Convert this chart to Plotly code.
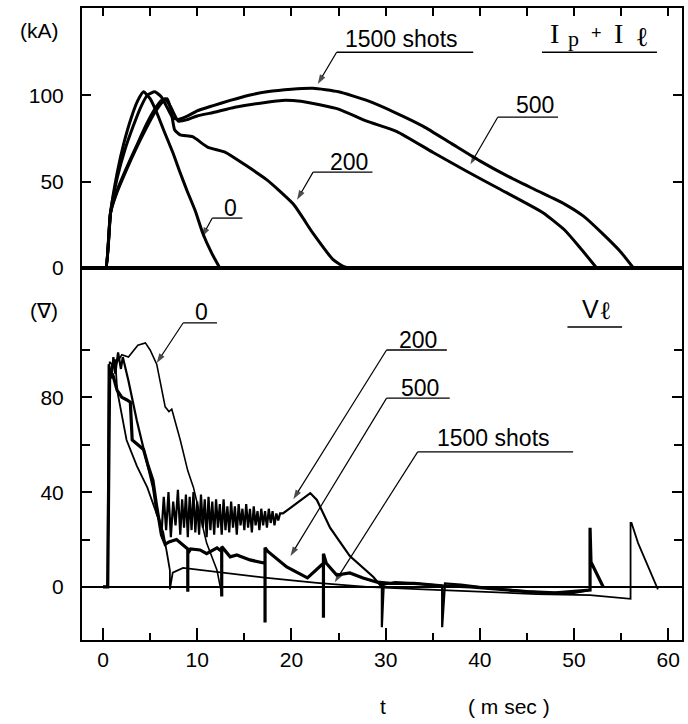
import plotly.graph_objects as go
from plotly.subplots import make_subplots

# ---------------- top panel: Ip + Il (kA) vs t (ms) ----------------
t_top_0 = [0, 0.3, 0.8, 1.5, 2.2, 3.0, 3.7, 4.3, 5.0, 5.7, 6.5, 7.4, 8.2, 8.9, 9.8, 10.6, 11.5, 12.4]
i_top_0 = [0, 0, 32, 55, 72, 87, 97, 102, 98, 90, 79, 67, 55, 45, 33, 20, 9, 0]

t_top_200 = [0, 0.3, 0.8, 1.5, 2.5, 3.5, 4.5, 5.5, 6.3, 6.8, 7.2, 7.6, 8.2, 9.5, 11.1, 13.0, 15.0,
             17.4, 20.2, 22.3, 24.4, 25.5, 26.2]
i_top_200 = [0, 0, 32, 44, 57, 69, 80, 90, 96, 98, 92, 80, 77, 76, 70, 67, 60,
             51, 37, 20, 5, 1, 0]

t_top_500 = [0, 0.3, 0.8, 1.5, 2.5, 3.5, 4.5, 5.5, 6.2, 6.6, 7.2, 8.0, 9.0, 10.0, 11.7, 14.0, 17.4,
             19.0, 21.0, 23.0, 25.0, 28.0, 31.2, 35.0, 38.6, 42.0, 46.7, 49.0, 50.6, 52.4]
i_top_500 = [0, 0, 32, 45, 58, 70, 82, 92, 97, 98, 93, 85, 86, 88, 90, 93, 96,
             97, 96.5, 94.5, 92, 85, 79, 67, 56, 46, 32, 22, 12, 0]

t_top_1500 = [0, 0.3, 0.8, 1.5, 2.3, 3.2, 4.0, 4.7, 5.5, 6.2, 6.8, 7.4, 8.0, 9.0, 10.0, 11.7, 13.5,
              15.5, 17.4, 20.0, 22.3, 25.0, 28.0, 31.0, 34.0, 37.0, 40.0, 43.0, 46.0, 49.0,
              51.0, 53.0, 55.0, 56.3]
i_top_1500 = [0, 0, 32, 52, 68, 82, 93, 100, 102, 99, 93, 87, 86, 88, 91, 94, 97,
              100, 102, 103.5, 104, 102, 97, 90, 82, 72, 62, 53, 45, 37,
              30, 20, 9, 0]

# ---------------- bottom panel: V_l (V) vs t (ms) ----------------
t_v_0 = [0, 0.5, 0.7, 1.2, 2.0, 2.7, 3.7, 4.5, 5.0, 5.7, 6.6, 7.0, 7.3, 8.2, 9.0, 9.6, 11.0, 12.1, 12.6]
v_0 = [0, 0, 95, 93, 98, 97, 102, 103, 100, 94, 76, 74, 75, 62, 49, 42, 18.5, 7, -3]

t_v_200 = [0, 0.5, 0.6, 0.9, 1.1, 1.3, 1.6, 1.9, 2.1, 2.7, 3.6, 4.7, 5.3, 5.7, 6.0,
           6.2, 6.45, 6.7, 6.95, 7.2, 7.45, 7.7, 7.95, 8.2, 8.4, 8.6, 8.8, 9.0, 9.2, 9.4, 9.6,
           9.8, 10.0, 10.2, 10.4, 10.6, 10.8, 11.0, 11.2, 11.4, 11.6, 11.8, 12.0, 12.2, 12.4,
           12.6, 12.8, 13.0, 13.2, 13.4, 13.6, 13.8, 14.0, 14.2, 14.4, 14.6, 14.8, 15.0, 15.2,
           15.4, 15.6, 15.8, 16.0, 16.2, 16.4, 16.6, 16.8, 17.0, 17.2, 17.4, 17.6, 17.8, 18.0,
           18.2, 18.4, 18.6, 18.8,
           19.1, 20.6, 22.0, 22.7, 24.1, 25.5, 26.2, 28.7, 29.4, 29.6, 29.6, 29.8, 31.0, 33.0,
           35.0, 36.0, 36.0, 36.3, 38.0, 41.0, 44.0, 47.0, 50.0, 51.5]
v_200 = [0, 0, 94, 88, 97, 90, 99, 92, 97, 87, 70, 51, 42, 31, 28,
         22, 38, 24, 40, 21, 36, 26, 41, 22, 37, 25, 39, 21, 38, 24, 40,
         23, 36, 22, 39, 25, 37, 21, 38, 24, 36, 22, 37, 25, 35,
         22, 37, 24, 34, 23, 36, 25, 34, 22, 35, 26, 33, 24, 35,
         25, 33, 23, 34, 26, 32, 24, 33, 26, 32, 25, 33, 27, 32,
         26, 31, 28, 31,
         31, 35.4, 39.6, 36.7, 25, 17, 13, 4.2, 0.8, 1.5, -17, 1, 2, 1.5,
         1, 0.5, -17, 1.5, 1, -0.5, -1.5, -2.5, -2.5, -1.5]

t_v_500 = [0, 0.5, 0.7, 1.0, 1.5, 2.0, 2.5, 2.9, 3.1, 3.4, 4.3, 4.8, 5.3, 5.7, 6.2, 6.6, 7.0,
           7.8, 8.5, 9.0, 9.0, 9.0, 9.3, 10.3, 11.0, 12.1, 12.6, 12.6, 12.6, 13.5, 14.2, 15.6,
           17.2, 17.2, 17.2, 17.5, 19.5, 21.7, 23.4, 23.4, 23.4, 23.7, 24.8, 26.2, 27.6, 29.1,
           30.5, 33.0, 36.0, 39.0, 42.0, 45.0, 48.0, 51.4, 51.7, 51.7, 51.8, 53.1]
v_500 = [0, 0, 88, 90, 83, 80, 79, 78, 62, 61, 58, 51, 45, 34, 22, 18, 19,
         20, 17.7, 16, -2, 14, 16, 15.6, 14, 16.5, 15, -4, 17, 12.7, 13.5, 11.4,
         10, -15, 16.5, 15, 8.4, 3.8, 10, -13, 14, 10, 5, 5.9, 3.8, 2,
         1.5, 1.5, 0.5, 0, -1, -2, -2.5, -1.3, -1.3, 25, 10.5, 0]

t_v_1500 = [0, 0.5, 0.7, 1.0, 1.3, 1.5, 2.5, 3.6, 4.7, 5.7, 6.4, 6.8, 7.1, 7.1, 7.4, 8.5,
            12.1, 17.4, 22.7, 28.0, 34.0, 40.0, 46.0, 51.7, 56.0, 56.0, 56.1, 56.8, 58.9]
v_1500 = [0, 0, 90, 94, 96, 83, 62, 51, 42, 31, 23, 14, 7, -1, 6, 8,
          6.3, 3.8, 1.7, 0, -1, -2, -3, -3.5, -5, 27, 27, 18.5, -1]

x_ticks = [0, 10, 20, 30, 40, 50, 60]
x_minor = [5, 15, 25, 35, 45, 55]
top_ticks = [0, 50, 100]
bot_ticks = [0, 40, 80]
bot_minor = [20, 60, 100]

FONT = "Liberation Sans, Arial, sans-serif"
SERIF = "Liberation Serif, serif"

fig = make_subplots(rows=2, cols=1, shared_xaxes=True, vertical_spacing=0)

for t, v in [(t_top_0, i_top_0), (t_top_200, i_top_200), (t_top_500, i_top_500), (t_top_1500, i_top_1500)]:
    fig.add_trace(go.Scatter(x=t, y=v, mode="lines", showlegend=False, hoverinfo="skip",
                             line=dict(color="black", width=3, shape="spline", smoothing=0.5)),
                  row=1, col=1)

bottom = [(t_v_0, v_0, 1.6), (t_v_1500, v_1500, 1.8), (t_v_200, v_200, 2.2), (t_v_500, v_500, 3.2)]
for t, v, w in bottom:
    fig.add_trace(go.Scatter(x=t, y=v, mode="lines", showlegend=False, hoverinfo="skip",
                             line=dict(color="black", width=w)),
                  row=2, col=1)

XR = [-2.23, 61.46]
split = 0.5886

fig.update_layout(
    width=688, height=724,
    margin=dict(l=82, r=6, t=8, b=84, autoexpand=False),
    paper_bgcolor="white", plot_bgcolor="white",
    font=dict(family=FONT, color="black", size=21),
    xaxis=dict(range=XR, side="top", showline=True, mirror=True, linecolor="black", linewidth=2,
               ticks="inside", tick0=0, dtick=5, ticklen=8, tickwidth=1.5, tickcolor="black",
               showticklabels=False, showgrid=False, zeroline=False, automargin=False),
    xaxis2=dict(range=XR, showline=True, mirror=True, linecolor="black", linewidth=2,
                ticks="inside", tickvals=x_ticks, ticktext=[str(v) for v in x_ticks],
                ticklen=12, tickwidth=1.5, tickcolor="black",
                minor=dict(tickvals=x_minor, ticklen=7, ticks="inside",
                           tickwidth=1.5, tickcolor="black"),
                tickfont=dict(size=21), ticklabelstandoff=0,
                showgrid=False, zeroline=False, automargin=False),
    yaxis=dict(domain=[split, 1], range=[0, 150.5], showline=True, mirror="ticks",
               linecolor="black", linewidth=2, ticks="inside", tickvals=top_ticks,
               ticklen=9, tickwidth=1.5, tickcolor="black", tickfont=dict(size=21),
               ticklabelstandoff=12, showgrid=False, zeroline=False, automargin=False),
    yaxis2=dict(domain=[0, split], range=[-22.4, 134.6], showline=True, mirror="ticks",
                linecolor="black", linewidth=2, ticks="inside", tickvals=bot_ticks,
                ticklen=10, tickwidth=1.5, tickcolor="black", tickfont=dict(size=21),
                minor=dict(tickvals=bot_minor, ticklen=8, ticks="inside", tickwidth=1.5,
                           tickcolor="black"),
                ticklabelstandoff=12, showgrid=False, automargin=False,
                zeroline=True, zerolinecolor="black", zerolinewidth=1.5),
)

# ---- labels, underlines and leaders ----
# (text, x_center, y_center, size, underline x0, x1, y, leader tip x, y, panel)
labels = [
    ("1500 shots", 31.7, 132.4, 23, 24.8, 39.3, 124.9, 22.8, 106.5, 1),
    ("500", 45.9, 94.2, 23, 41.9, 48.3, 87.3, 39.0, 60.0, 1),
    ("200", 26.1, 61.3, 23, 22.3, 28.6, 55.5, 20.6, 39.5, 1),
    ("0", 13.5, 34.7, 23, 11.6, 14.8, 28.9, 10.5, 18.0, 1),
    ("0", 10.5, 116.0, 23, 8.5, 12.1, 111.4, 5.7, 94.5, 2),
    ("200", 33.4, 104.2, 23, 30.1, 36.5, 100.0, 20.2, 37.0, 2),
    ("500", 33.7, 84.0, 23, 30.1, 36.8, 79.7, 19.9, 13.0, 2),
    ("1500 shots", 41.5, 62.9, 23, 33.4, 49.9, 57.0, 24.6, 2.0, 2),
]
for text, xc, yc, sz, ux0, ux1, uy, tx, ty, p in labels:
    xr = "x" if p == 1 else "x2"
    yr = "y" if p == 1 else "y2"
    fig.add_annotation(x=xc, y=yc, xref=xr, yref=yr, text=text, showarrow=False,
                       font=dict(size=sz), xanchor="center", yanchor="middle")
    fig.add_shape(type="line", x0=ux0, x1=ux1, y0=uy, y1=uy, xref=xr, yref=yr,
                  line=dict(color="black", width=1.3))
    fig.add_trace(go.Scatter(x=[ux0, tx], y=[uy, ty], mode="lines+markers",
                             showlegend=False, hoverinfo="skip",
                             line=dict(color="black", width=1.2),
                             marker=dict(symbol=["circle", "arrow"], size=[0, 10],
                                         angleref="previous", color="black",
                                         line=dict(width=0))),
                  row=p, col=1)

# panel titles: I_p + I_l (top) and V_l (bottom), pieces placed separately
title_parts = [
    ("I", 47.9, 135.8, 28, SERIF, "x", "y"),
    ("p", 49.9, 133.0, 22, SERIF, "x", "y"),
    ("+", 52.4, 135.8, 18, FONT, "x", "y"),
    ("I", 54.7, 135.8, 28, SERIF, "x", "y"),
    ("<b>ℓ</b>", 57.2, 133.5, 27, SERIF, "x", "y"),
    ("V", 51.7, 117.3, 25, FONT, "x2", "y2"),
    ("<b>ℓ</b>", 53.3, 116.8, 25, SERIF, "x2", "y2"),
]
for text, xc, yc, sz, fam, xr, yr in title_parts:
    fig.add_annotation(x=xc, y=yc, xref=xr, yref=yr, text=text, showarrow=False,
                       xanchor="center", yanchor="middle", font=dict(size=sz, family=fam))
fig.add_shape(type="line", x0=46.6, x1=58.8, y0=124.9, y1=124.9, xref="x", yref="y",
              line=dict(color="black", width=1.3))
fig.add_shape(type="line", x0=49.3, x1=55.1, y0=109.7, y1=109.7, xref="x2", yref="y2",
              line=dict(color="black", width=1.3))

# units
fig.add_annotation(x=-0.07, y=(640 - 31) / 632, xref="paper", yref="paper", text="(kA)",
                   showarrow=False, xanchor="center", yanchor="middle", font=dict(size=21))
fig.add_annotation(x=-0.063, y=(640 - 310) / 632, xref="paper", yref="paper", text="(∇)",
                   showarrow=False, xanchor="center", yanchor="middle", font=dict(size=21))
fig.add_annotation(x=29.7, y=-0.106, xref="x2", yref="paper", text="t",
                   showarrow=False, xanchor="center", yanchor="middle", font=dict(size=21))
fig.add_annotation(x=43.1, y=-0.106, xref="x2", yref="paper", text="( m sec )",
                   showarrow=False, xanchor="center", yanchor="middle", font=dict(size=21))

fig.write_html("out.html", config={"displayModeBar": False},
               post_script="document.body.style.margin='0';document.body.style.padding='0';")
